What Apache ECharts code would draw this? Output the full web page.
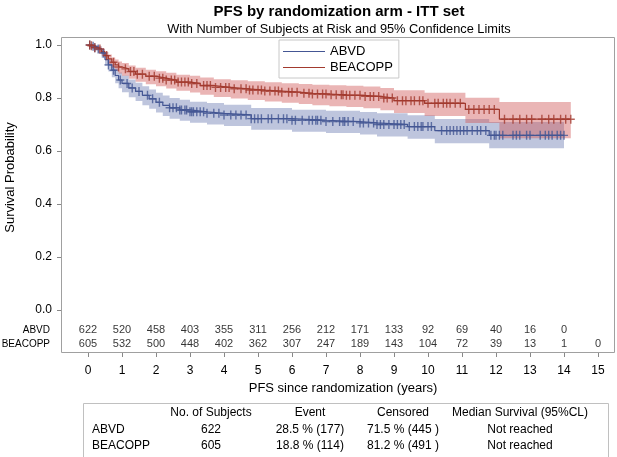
<!DOCTYPE html>
<html><head><meta charset="utf-8">
<script src="https://cdn.jsdelivr.net/npm/echarts@6/dist/echarts.min.js"></script>
<style>html,body{margin:0;padding:0;background:#fff}#c{width:617px;height:457px}</style>
</head><body><div id="c"></div>
<script>
// ---------------- data ----------------
const armNames = ['ABVD', 'BEACOPP'];
const xTickValues = [0,1,2,3,4,5,6,7,8,9,10,11,12,13,14,15];

// Kaplan-Meier estimates (years, survival)
const timeABVD = [0,0.1,0.2,0.3,0.4,0.5,0.6,0.7,0.8,0.9,1.0,1.2,1.4,1.6,1.8,2.0,2.2,2.4,2.7,3.0,3.5,4.0,4.8,6.0,7.0,8.0,8.5,9.4,10.2,11.8,14.0];
const survABVD = [1,.995,.99,.985,.97,.945,.925,.905,.885,.868,.855,.838,.825,.81,.797,.784,.772,.763,.755,.748,.742,.736,.722,.716,.711,.706,.700,.692,.677,.659,.659];
const lowerABVD = [1,.987,.979,.971,.952,.922,.900,.878,.856,.837,.822,.803,.789,.773,.759,.745,.732,.722,.714,.707,.700,.694,.680,.673,.668,.662,.655,.646,.629,.610,.610];
const upperABVD = [1,1,.998,.995,.985,.965,.947,.929,.911,.896,.885,.870,.858,.844,.832,.820,.809,.800,.793,.786,.781,.775,.762,.756,.752,.747,.742,.735,.721,.709,.709];

const timeBEACOPP = [0,0.1,0.2,0.3,0.4,0.5,0.6,0.7,0.8,0.9,1.0,1.2,1.4,1.7,2.0,2.3,2.6,3.0,3.3,3.7,4.2,4.7,5.2,5.7,6.2,6.6,7.1,7.6,8.1,8.6,9.0,9.9,11.1,12.1,14.2];
const survBEACOPP = [1,.997,.99,.985,.975,.96,.948,.935,.925,.917,.91,.9,.89,.882,.875,.868,.86,.855,.847,.84,.835,.83,.826,.822,.818,.815,.812,.81,.806,.80,.79,.78,.757,.72,.72];
const lowerBEACOPP = [1,.99,.980,.972,.960,.942,.928,.913,.902,.892,.884,.873,.861,.852,.844,.836,.827,.821,.812,.804,.798,.792,.787,.782,.777,.773,.769,.766,.761,.754,.743,.732,.706,.648,.648];
const upperBEACOPP = [1,1,.997,.994,.987,.974,.964,.953,.945,.938,.932,.923,.914,.907,.901,.895,.888,.884,.877,.871,.867,.863,.859,.856,.853,.850,.848,.846,.843,.838,.829,.820,.801,.785,.785];

// censoring times (years)
const censorABVD = [0.05,0.15,0.2,0.3,0.45,0.6,0.75,0.95,1.15,1.3,1.5,1.75,1.9,2.1,2.4,2.5,2.6,2.7,2.75,2.85,2.9,3.0,3.05,3.1,3.2,3.3,3.4,3.5,3.7,3.85,4.0,4.2,4.35,4.5,4.65,4.8,4.9,5.0,5.1,5.3,5.4,5.6,5.75,5.85,6.0,6.1,6.3,6.5,6.6,6.7,6.75,6.85,7.0,7.2,7.4,7.5,7.55,7.65,7.8,8.0,8.1,8.25,8.4,8.5,8.6,8.7,8.85,9.0,9.1,9.2,9.3,9.45,9.6,9.7,9.8,9.85,10.0,10.1,10.4,10.55,10.65,10.75,10.85,10.95,11.05,11.15,11.3,11.45,11.55,11.7,11.85,11.95,12.0,12.1,12.2,12.5,12.6,12.7,12.9,13.0,13.3,13.45,13.55,13.65,13.8,13.9,14.0];
const censorBEACOPP = [0.05,0.1,0.2,0.35,0.55,0.75,0.9,1.1,1.25,1.35,1.45,1.6,1.8,1.95,2.1,2.2,2.3,2.45,2.55,2.65,2.75,2.85,2.95,3.05,3.2,3.4,3.5,3.6,3.75,3.9,4.05,4.15,4.3,4.5,4.65,4.75,4.85,5.0,5.1,5.2,5.35,5.5,5.6,5.7,5.9,6.0,6.15,6.35,6.5,6.6,6.75,6.9,7.0,7.15,7.3,7.45,7.5,7.6,7.7,7.85,8.0,8.15,8.3,8.4,8.55,8.7,8.8,8.95,9.1,9.25,9.35,9.5,9.6,9.75,9.85,10.0,10.2,10.3,10.45,10.55,10.65,10.8,10.95,11.2,11.35,11.5,11.65,11.8,11.95,12.25,12.5,12.7,12.9,13.05,13.35,13.55,13.7,13.9,14.05,14.2];

// number at risk
const atRiskABVD = [622,520,458,403,355,311,256,212,171,133,92,69,40,16,0];
const atRiskBEACOPP = [605,532,500,448,402,362,307,247,189,143,104,72,39,13,1,0];

// summary table
const tableHeader = ['', 'No. of Subjects', 'Event', 'Censored', 'Median Survival (95%CL)'];
const tableRowABVD = ['ABVD', '622', '28.5 % (177)', '71.5 % (445 )', 'Not reached'];
const tableRowBEACOPP = ['BEACOPP', '605', '18.8 % (114)', '81.2 % (491 )', 'Not reached'];

const titleText = 'PFS by randomization arm - ITT set';
const subtitleText = 'With Number of Subjects at Risk and 95% Confidence Limits';

// ---------------- build ----------------
const FONT = "'Liberation Sans', Arial, sans-serif";
const BLUE = '#445694', RED = '#A23A2E';
const BLUE_BAND = 'rgba(111,126,179,0.45)', RED_BAND = 'rgba(208,91,91,0.45)';
const PLUS = 'path://M33,0H47V38H80V52H47V90H33V52H0V38H33Z';

function pairs(t, v) { return t.map((x, i) => [x, v[i]]); }
function survAt(times, surv, t) {
  let s = surv[0];
  for (let i = 0; i < times.length; i++) { if (times[i] <= t) s = surv[i]; else break; }
  return s;
}
function censorPts(ct, times, surv) { return ct.map(t => [t, survAt(times, surv, t)]); }

function bandSeries(times, lo, up, color) {
  return {
    type: 'custom', xAxisIndex: 0, yAxisIndex: 0, silent: true, clip: true, z: 1,
    data: times.map((t, i) => [t, lo[i], up[i]]),
    encode: { x: 0, y: [1, 2] },
    renderItem: function (params, api) {
      if (params.dataIndex !== 0) return null;
      const pts = [];
      const n = times.length;
      for (let i = 0; i < n - 1; i++) {
        pts.push(api.coord([times[i], up[i]]));
        pts.push(api.coord([times[i + 1], up[i]]));
      }
      for (let i = n - 2; i >= 0; i--) {
        pts.push(api.coord([times[i + 1], lo[i]]));
        pts.push(api.coord([times[i], lo[i]]));
      }
      return { type: 'polygon', shape: { points: pts }, style: { fill: color, stroke: null } };
    }
  };
}

const chart = echarts.init(document.getElementById('c'), null, { renderer: 'canvas' });

const tableCols = [92, 211, 310, 403, 520];
const tableAlign = ['left', 'center', 'center', 'center', 'center'];
const tableRowsY = [413, 430, 446];
const tableGraphics = [];
[tableHeader, tableRowABVD, tableRowBEACOPP].forEach((row, r) => {
  row.forEach((txt, c) => {
    if (!txt) return;
    tableGraphics.push({ type: 'text', x: tableCols[c], y: tableRowsY[r],
      style: { text: txt, font: '12px ' + FONT, fill: '#000', textAlign: tableAlign[c], textVerticalAlign: 'middle' } });
  });
});

const option = {
  animation: false,
  backgroundColor: '#fff',
  textStyle: { fontFamily: FONT },
  grid: [
    { left: 61, right: 2, top: 45, bottom: 147, containLabel: false, outerBoundsMode: 'none' },
    { left: 88, right: 19, top: 37, bottom: 105, containLabel: false, outerBoundsMode: 'none' }
  ],
  xAxis: [
    { type: 'value', gridIndex: 0, min: -0.794, max: 15.5, show: false },
    { type: 'value', gridIndex: 1, min: 0, max: 15, interval: 1,
      axisLine: { show: false, onZero: false },
      axisTick: { show: true, length: 5, lineStyle: { color: '#888' } },
      axisLabel: { margin: 13, fontSize: 12, color: '#000', fontFamily: FONT },
      splitLine: { show: false },
      name: 'PFS since randomization (years)', nameLocation: 'middle', nameGap: 26,
      nameTextStyle: { fontSize: 13, color: '#000', fontFamily: FONT } }
  ],
  yAxis: [
    { type: 'value', gridIndex: 0, min: 0, max: 1, interval: 0.2,
      axisLine: { show: false, onZero: false },
      axisTick: { show: true, length: 4, lineStyle: { color: '#888' } },
      axisLabel: { margin: 9, fontSize: 12, color: '#000', fontFamily: FONT, formatter: v => v.toFixed(1) },
      splitLine: { show: false },
      name: 'Survival Probability', nameLocation: 'middle', nameGap: 44,
      nameTextStyle: { fontSize: 13, color: '#000', fontFamily: FONT } },
    { type: 'value', gridIndex: 1, min: 0, max: 315, show: false }
  ],
  legend: {
    data: armNames, orient: 'vertical', left: 279, top: 40, icon: 'rect',
    itemWidth: 42, itemHeight: 1, itemGap: 1, selectedMode: false,
    padding: [4, 6, 3, 4], borderColor: '#c8c8c8', borderWidth: 1,
    textStyle: { fontSize: 13, color: '#000', lineHeight: 15, fontFamily: FONT }
  },
  graphic: [
    { type: 'rect', shape: { x: 61.5, y: 37.5, width: 553, height: 315 },
      style: { fill: 'none', stroke: '#a0a0a0', lineWidth: 1 }, z: 100, silent: true },
    { type: 'text', x: 339, y: 12, style: { text: titleText, font: 'bold 15px ' + FONT, fill: '#000', textAlign: 'center', textVerticalAlign: 'middle' } },
    { type: 'text', x: 339, y: 29, style: { text: subtitleText, font: '12.8px ' + FONT, fill: '#000', textAlign: 'center', textVerticalAlign: 'middle' } },
    { type: 'text', x: 50, y: 330, style: { text: armNames[0], font: '10px ' + FONT, fill: '#000', textAlign: 'right', textVerticalAlign: 'middle' } },
    { type: 'text', x: 50, y: 344, style: { text: armNames[1], font: '10px ' + FONT, fill: '#000', textAlign: 'right', textVerticalAlign: 'middle' } },
    { type: 'rect', shape: { x: 83.5, y: 403.5, width: 525, height: 60 },
      style: { fill: 'none', stroke: '#c0c0c0', lineWidth: 1 }, silent: true },
    ...tableGraphics
  ],
  series: [
    bandSeries(timeABVD, lowerABVD, upperABVD, BLUE_BAND),
    bandSeries(timeBEACOPP, lowerBEACOPP, upperBEACOPP, RED_BAND),
    { type: 'line', name: armNames[0], step: 'end', xAxisIndex: 0, yAxisIndex: 0,
      data: pairs(timeABVD, survABVD), symbol: 'none', color: BLUE,
      lineStyle: { width: 1.2, color: BLUE }, z: 3 },
    { type: 'line', name: armNames[1], step: 'end', xAxisIndex: 0, yAxisIndex: 0,
      data: pairs(timeBEACOPP, survBEACOPP), symbol: 'none', color: RED,
      lineStyle: { width: 1.2, color: RED }, z: 3 },
    { type: 'scatter', xAxisIndex: 0, yAxisIndex: 0, symbol: PLUS, symbolSize: [8, 9],
      data: censorPts(censorABVD, timeABVD, survABVD), itemStyle: { color: BLUE }, z: 4, silent: true },
    { type: 'scatter', xAxisIndex: 0, yAxisIndex: 0, symbol: PLUS, symbolSize: [8, 9],
      data: censorPts(censorBEACOPP, timeBEACOPP, survBEACOPP), itemStyle: { color: RED }, z: 4, silent: true },
    { type: 'scatter', xAxisIndex: 1, yAxisIndex: 1, symbolSize: 0, silent: true,
      data: atRiskABVD.map((n, i) => [xTickValues[i], 22, n]),
      label: { show: true, position: 'inside', formatter: p => String(p.data[2]), fontSize: 11, color: '#000', fontFamily: FONT } },
    { type: 'scatter', xAxisIndex: 1, yAxisIndex: 1, symbolSize: 0, silent: true,
      data: atRiskBEACOPP.map((n, i) => [xTickValues[i], 8, n]),
      label: { show: true, position: 'inside', formatter: p => String(p.data[2]), fontSize: 11, color: '#000', fontFamily: FONT } }
  ]
};
chart.setOption(option);
</script>
</body></html>
